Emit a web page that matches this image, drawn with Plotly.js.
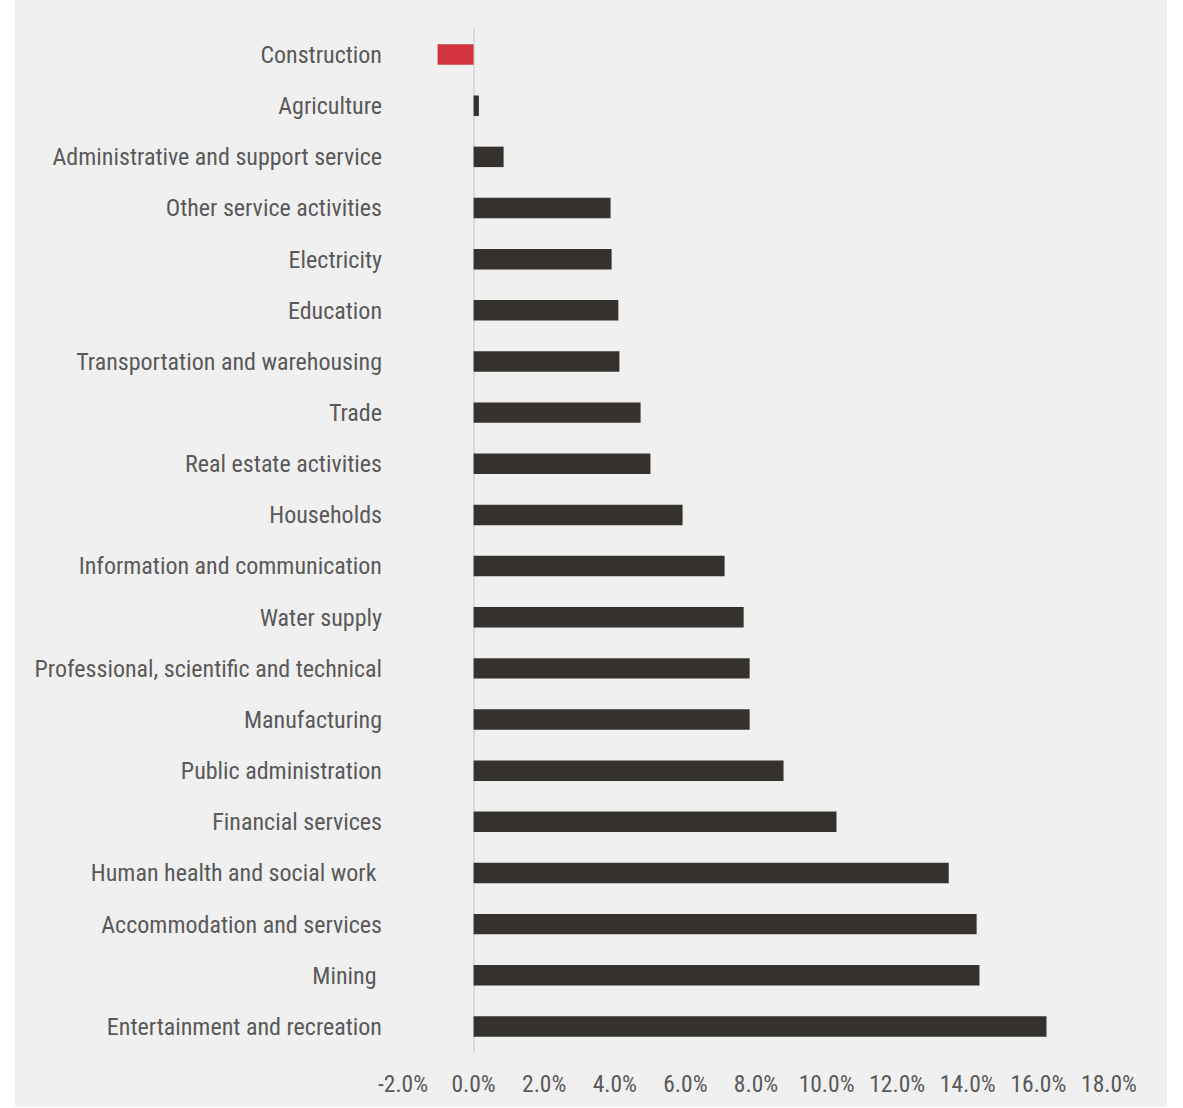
<!DOCTYPE html>
<html>
<head>
<meta charset="utf-8">
<script src="https://cdn.plot.ly/plotly-3.0.1.min.js"></script>
<style>
  html, body { margin: 0; padding: 0; background: #ffffff; }
  #chart { position: absolute; left: 15px; top: 0px; width: 1152px; height: 1107px; }
</style>
</head>
<body>
<div id="chart"></div>
<script>
const categories = [
  "Construction",
  "Agriculture",
  "Administrative and support service",
  "Other service activities",
  "Electricity",
  "Education",
  "Transportation and warehousing",
  "Trade",
  "Real estate activities",
  "Households",
  "Information and communication",
  "Water supply",
  "Professional, scientific and technical",
  "Manufacturing",
  "Public administration",
  "Financial services",
  "Human health and social work\u00a0",
  "Accommodation and services",
  "Mining\u00a0",
  "Entertainment and recreation"
];
const values = [-1.02, 0.15, 0.85, 3.88, 3.91, 4.10, 4.13, 4.73, 5.01, 5.92,
                7.11, 7.65, 7.82, 7.82, 8.78, 10.28, 13.46, 14.25, 14.33, 16.23];
const tickVals = [-2, 0, 2, 4, 6, 8, 10, 12, 14, 16, 18];
const tickText = ["-2.0%", "0.0%", "2.0%", "4.0%", "6.0%", "8.0%", "10.0%", "12.0%", "14.0%", "16.0%", "18.0%"];

const colors = values.map(v => v < 0 ? "#d1343d" : "#35312c");

const fontFam = "'Roboto Condensed', 'Liberation Sans Narrow', 'DejaVu Sans Condensed', Roboto, sans-serif";

const trace = {
  type: "bar",
  orientation: "h",
  y: categories,
  x: values,
  marker: { color: colors, line: { width: 0 } },
  width: 0.4,
  hoverinfo: "x+y"
};

const layout = {
  width: 1152,
  height: 1107,
  paper_bgcolor: "#f0f0f0",
  plot_bgcolor: "#f0f0f0",
  margin: { l: 388, r: 58, t: 29, b: 55, pad: 0 },
  font: { family: fontFam, size: 24, color: "#595959" },
  showlegend: false,
  xaxis: {
    range: [-2, 18],
    tickvals: tickVals,
    ticktext: tickText,
    showgrid: false,
    zeroline: true,
    zerolinecolor: "#d9d9d9",
    zerolinewidth: 2,
    showline: false,
    ticks: "",
    ticklabelstandoff: 15,
    tickfont: { family: fontFam, size: 23.5, color: "#595959" }
  },
  yaxis: {
    type: "category",
    autorange: false,
    range: [categories.length - 0.5, -0.5],
    showgrid: false,
    zeroline: false,
    showline: false,
    ticks: "",
    ticklabelstandoff: 20,
    tickfont: { family: fontFam, size: 24, color: "#595959" }
  }
};

Plotly.newPlot("chart", [trace], layout, { displayModeBar: false, staticPlot: true });
</script>
</body>
</html>
